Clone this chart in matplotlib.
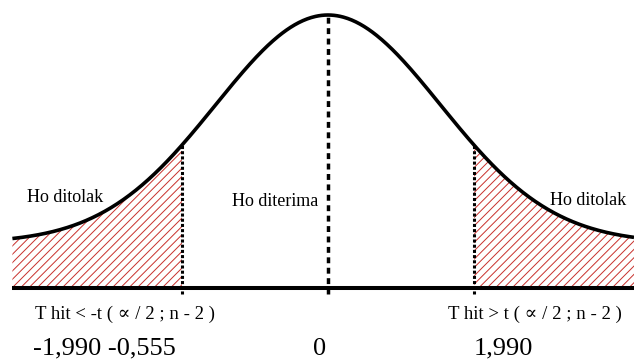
import numpy as np
import matplotlib
matplotlib.use("Agg")
import matplotlib.pyplot as plt

# critical values / observed t
t_crit = 1.990
t_hit = -0.555
bottom_labels = ["-1,990 -0,555", "0", "1,990"]
region_labels = ["Ho ditolak", "Ho diterima", "Ho ditolak"]
rule_labels = ["T hit < -t ( \u221d / 2 ; n - 2 )", "T hit > t ( \u221d / 2 ; n - 2 )"]

# bell shape: tail level + gaussian part (peak = 1)
tail = 0.165
spread = 1.53

SERIF = ["Liberation Serif", "DejaVu Serif"]
plt.rcParams["hatch.linewidth"] = 0.7


def bell(x):
    return tail + (1 - tail) * np.exp(-x ** 2 / (2 * spread ** 2))


fig = plt.figure(figsize=(6.34, 3.6), dpi=100)
ax = fig.add_axes([0, 0, 1, 1])
ax.set_xlim(-4.469, 4.169)
ax.set_ylim(-0.264, 1.055)
ax.axis("off")

x0, x1 = -4.30, 4.169
x = np.linspace(x0, x1, 600)
ax.plot(x, bell(x), color="black", lw=2.6, solid_capstyle="butt", zorder=3)

# rejection areas
xl = np.linspace(x0, -t_crit, 200)
xr = np.linspace(t_crit, x1, 200)
for xs in (xl, xr):
    ax.fill_between(xs, 0, bell(xs), facecolor="none", edgecolor="#c8302c",
                    hatch="////", lw=0, zorder=1)

# base line
ax.plot([x0, x1], [0, 0], color="black", lw=2.9, solid_capstyle="butt", zorder=3)

# critical lines (dotted) and centre (dashed)
for xc in (-t_crit, t_crit):
    ax.plot([xc, xc], [-0.022, bell(xc)], color="black", lw=2.2,
            linestyle=(0, (1.0, 0.7)), dash_capstyle="butt", zorder=4)
ax.plot([0, 0], [-0.022, 1.0], color="black", lw=2.5,
        linestyle=(0, (1.7, 1.3)), dash_capstyle="butt", zorder=4)

# region labels
ax.text(-4.10, 0.333, region_labels[0], fontsize=13, family=SERIF, va="center", ha="left")
ax.text(-1.31, 0.315, region_labels[1], fontsize=13, family=SERIF, va="center", ha="left")
ax.text(3.02, 0.322, region_labels[2], fontsize=13, family=SERIF, va="center", ha="left")

# decision rules
ax.text(-3.99, -0.095, rule_labels[0], fontsize=13.5, family=SERIF, va="center", ha="left")
ax.text(1.63, -0.095, rule_labels[1], fontsize=13.5, family=SERIF, va="center", ha="left")

# numbers
ax.text(-4.02, -0.223, bottom_labels[0], fontsize=19, family=SERIF, va="center", ha="left")
ax.text(-0.12, -0.223, bottom_labels[1], fontsize=19, family=SERIF, va="center", ha="center")
ax.text(t_crit - 0.01, -0.223, bottom_labels[2], fontsize=19, family=SERIF, va="center", ha="left")

fig.savefig("out.png", dpi=100)
